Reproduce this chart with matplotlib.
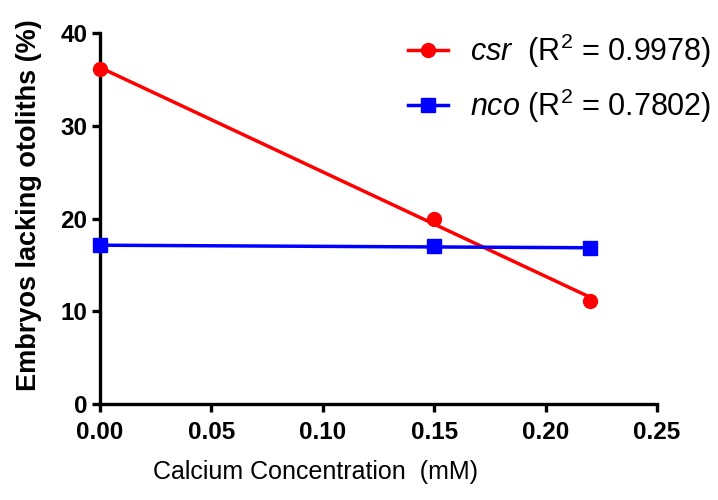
import numpy as np
import matplotlib
matplotlib.use("Agg")
import matplotlib.pyplot as plt
from matplotlib.lines import Line2D

plt.rcParams['font.family'] = ['Liberation Sans', 'DejaVu Sans']
plt.rcParams['mathtext.fontset'] = 'custom'
plt.rcParams['mathtext.rm'] = 'Liberation Sans'
plt.rcParams['mathtext.it'] = 'Liberation Sans:italic'

conc = [0.0, 0.15, 0.22]
csr = [36.1, 20.0, 11.1]
nco = [17.1, 17.0, 16.8]
xticks = [0.00, 0.05, 0.10, 0.15, 0.20, 0.25]
yticks = [0, 10, 20, 30, 40]

fig = plt.figure(figsize=(7.18, 5.0), dpi=100)
ax = fig.add_axes([0.139, 0.192, 0.776, 0.742])

xs = np.array(conc)
for ys, col, mk in [(csr, '#ff0000', 'o'), (nco, '#0000ff', 's')]:
    p = np.polyfit(xs, ys, 1)
    xl = np.array([xs.min(), xs.max()])
    ax.plot(xl, np.polyval(p, xl), color=col, lw=2.5, zorder=2, clip_on=False)
    ax.plot(xs, ys, linestyle='none', marker=mk, ms=10, color=col, zorder=3, clip_on=False)

ax.set_xlim(0, 0.25)
ax.set_ylim(0, 40)
ax.set_xticks(xticks)
ax.set_xticklabels([f"{t:.2f}" for t in xticks])
ax.set_yticks(yticks)
for s in ['top', 'right']:
    ax.spines[s].set_visible(False)
for s in ['left', 'bottom']:
    ax.spines[s].set_linewidth(2.4)
ax.tick_params(width=2.4, length=6, labelsize=17.5, direction='out')
ax.tick_params(axis='x', pad=6)
ax.tick_params(axis='y', pad=3)
for lab in ax.get_xticklabels() + ax.get_yticklabels():
    lab.set_fontweight('bold')

ax.set_xlabel('Calcium Concentration  (mM)', fontsize=18)
ax.set_ylabel('Embryos lacking otoliths (%)', fontsize=19.5, fontweight='bold')
ax.xaxis.set_label_coords(0.388, -0.152)
ax.yaxis.set_label_coords(-0.103, 0.535)

handles = [Line2D([0], [0], color='#ff0000', lw=2.5, marker='o', ms=10),
           Line2D([0], [0], color='#0000ff', lw=2.5, marker='s', ms=10)]
labels = [r'$\it{csr}$  (R$^2$ = 0.9978)', r'$\it{nco}$ (R$^2$ = 0.7802)']
leg = fig.legend(handles, labels, loc='upper left', bbox_to_anchor=(0.568, 0.937),
                 frameon=False, fontsize=22, handlelength=1.3, handletextpad=0.75,
                 labelspacing=0.55, borderpad=0, borderaxespad=0)

fig.savefig('out.png', dpi=100)
